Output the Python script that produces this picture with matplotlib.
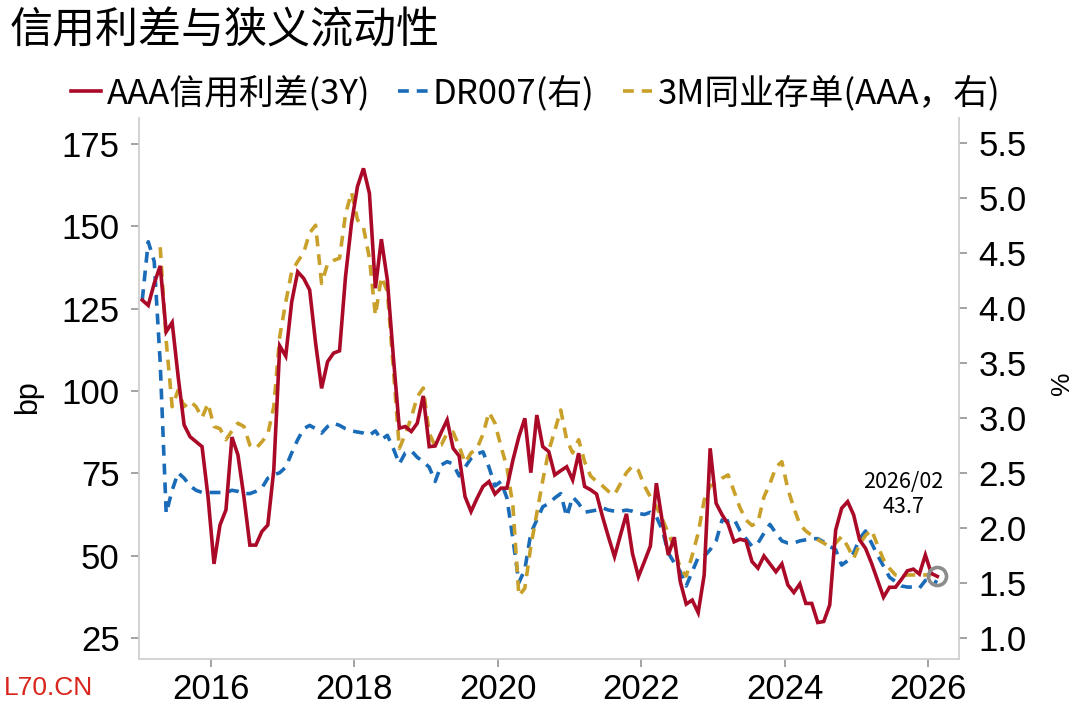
import numpy as np
import pandas as pd
import matplotlib
matplotlib.use("Agg")
import matplotlib.pyplot as plt

plt.rcParams['font.family'] = ['Liberation Sans', 'Noto Sans CJK SC', 'DejaVu Sans']
plt.rcParams['axes.unicode_minus'] = False

# monthly data, Jan 2015 - Feb 2026
months = pd.period_range('2015-01', '2026-02', freq='M')

# AAA credit spread 3Y (bp, left axis)
spread_aaa_3y = [
    127.6, 126.0, 132.7, 138.0, 118.0, 120.8, 104.4, 89.7, 86.1, 84.6, 83.1, 67.9,
    47.5, 59.3, 63.9, 86.0, 80.6, 67.9, 53.2, 53.2, 57.3, 59.3, 76.0, 113.7,
    110.6, 127.1, 136.2, 134.2, 130.7, 114.5, 100.8, 108.9, 111.5, 112.2, 134.7, 150.9,
    162.1, 167.6, 160.0, 131.2, 146.1, 133.7, 110.4, 88.7, 89.2, 87.7, 90.2, 98.5,
    83.1, 83.3, 87.4, 91.2, 82.6, 80.3, 67.9, 63.4, 67.4, 71.0, 72.5, 68.7,
    70.5, 70.5, 79.0, 86.1, 91.7, 75.2, 92.7, 83.1, 81.6, 74.5, 75.8, 77.0,
    73.0, 81.1, 71.0, 70.0, 68.7, 61.8, 55.6, 49.7, 56.3, 62.7, 50.7, 43.6,
    48.2, 52.9, 72.0, 60.3, 50.2, 55.6, 42.1, 35.3, 36.5, 32.7, 44.1, 82.6,
    65.9, 62.4, 59.6, 54.2, 55.0, 54.5, 48.2, 46.2, 49.9, 47.5, 45.1, 47.5,
    41.1, 38.8, 41.4, 35.5, 35.5, 29.7, 30.0, 35.0, 57.8, 64.4, 66.4, 62.4,
    54.8, 52.2, 47.7, 42.6, 37.4, 40.4, 40.4, 42.8, 45.4, 45.9, 44.4, 50.2,
    44.6, 43.7,
]

# DR007 (%, right axis)
dr007 = [
    4.07, 4.60, 4.42, 3.50, 2.13, 2.34, 2.50, 2.45, 2.38, 2.34, 2.32, 2.32,
    2.32, 2.32, 2.32, 2.34, 2.33, 2.31, 2.31, 2.33, 2.36, 2.45, 2.48, 2.50,
    2.55, 2.68, 2.80, 2.90, 2.93, 2.90, 2.86, 2.92, 2.95, 2.93, 2.90, 2.88,
    2.87, 2.86, 2.84, 2.88, 2.80, 2.84, 2.72, 2.58, 2.68, 2.70, 2.64, 2.60,
    2.55, 2.42, 2.57, 2.60, 2.58, 2.47, 2.55, 2.63, 2.67, 2.69, 2.55, 2.38,
    2.42, 2.27, 1.90, 1.50, 1.62, 1.95, 2.07, 2.19, 2.22, 2.27, 2.31, 2.10,
    2.28, 2.22, 2.14, 2.15, 2.16, 2.18, 2.16, 2.15, 2.15, 2.16, 2.15, 2.13,
    2.12, 2.14, 2.10, 1.98, 1.77, 1.68, 1.60, 1.47, 1.60, 1.73, 1.74, 1.80,
    1.88, 2.07, 2.06, 2.08, 1.97, 1.90, 1.83, 1.86, 1.95, 2.03, 1.95, 1.88,
    1.86, 1.86, 1.88, 1.89, 1.90, 1.90, 1.87, 1.83, 1.80, 1.66, 1.70, 1.77,
    1.90, 1.97, 1.86, 1.75, 1.65, 1.55, 1.51, 1.47, 1.46, 1.46, 1.45, 1.52,
    1.53, 1.50,
]

# 3M NCD AAA (%, right axis), series starts Apr 2015
ncd_3m_aaa = [
    np.nan, np.nan, np.nan, 4.55, 3.70, 3.10, 3.25, 3.10, 3.15, 3.10, 3.00, 3.13,
    2.92, 2.90, 2.80, 2.88, 2.95, 2.92, 2.75, 2.72, 2.78, 2.85, 3.10, 3.74,
    4.05, 4.33, 4.42, 4.50, 4.68, 4.75, 4.22, 4.40, 4.43, 4.45, 4.85, 5.05,
    4.80, 4.73, 4.45, 3.93, 4.28, 4.15, 3.45, 2.72, 2.85, 3.00, 3.19, 3.27,
    2.86, 2.74, 2.75, 2.86, 2.87, 2.74, 2.59, 2.68, 2.72, 2.85, 3.05, 2.95,
    2.74, 2.55, 2.20, 1.38, 1.45, 1.83, 2.13, 2.43, 2.70, 2.88, 3.07, 2.80,
    2.68, 2.80, 2.60, 2.47, 2.42, 2.38, 2.33, 2.30, 2.40, 2.50, 2.56, 2.52,
    2.38, 2.28, 2.19, 2.08, 1.95, 1.82, 1.63, 1.56, 1.75, 1.95, 2.25, 2.38,
    2.40, 2.45, 2.48, 2.33, 2.18, 2.07, 2.02, 2.05, 2.28, 2.40, 2.55, 2.60,
    2.35, 2.18, 2.03, 1.97, 1.93, 1.89, 1.86, 1.83, 1.86, 1.92, 1.83, 1.72,
    1.85, 1.93, 1.98, 1.84, 1.71, 1.63, 1.57, 1.56, 1.57, 1.57, 1.57, 1.57,
    1.57, np.nan,
]

year_ticks = [2016, 2018, 2020, 2022, 2024, 2026]
left_ticks = [25, 50, 75, 100, 125, 150, 175]
right_ticks = [1.0, 1.5, 2.0, 2.5, 3.0, 3.5, 4.0, 4.5, 5.0, 5.5]

# mid-month decimal year positions
x = np.array([p.year + (p.month - 0.5) / 12 for p in months])

red = '#AA0A28'
blue = '#1A6BB8'
gold = '#C9A12A'
spine_c = '#D0D0D0'
tick_c = '#8A8A8A'

fig = plt.figure(figsize=(10.8, 7.07), dpi=100)
ax = fig.add_axes([0.1287, 0.0679, 0.7593, 0.7652])
ax2 = ax.twinx()
ax.set_zorder(ax2.get_zorder() + 1)
ax.patch.set_visible(False)

lw = 2.6
l_dr, = ax2.plot(x, dr007, color=blue, lw=lw, dashes=(3, 2.2))
l_ncd, = ax2.plot(x, ncd_3m_aaa, color=gold, lw=lw, dashes=(3, 2.2))
l_sp, = ax.plot(x, spread_aaa_3y, color=red, lw=lw, solid_joinstyle='miter')

# latest point marker + label
ax.plot(x[-1], spread_aaa_3y[-1], 'o', ms=13, mfc='none', mec='#8C8C8C', mew=2.6, zorder=5)
ax.text(2025.65, 68.5, f"{months[-1].year}/{months[-1].month:02d}\n{spread_aaa_3y[-1]:.1f}",
        ha='center', va='center', fontsize=15.5, linespacing=1.2,
        family=['Noto Sans CJK SC', 'DejaVu Sans'])

ax.set_xlim(2014.996, 2026.428)
ax.set_ylim(18.62, 182.9)
ax2.set_ylim(0.806, 5.725)
ax.set_xticks(year_ticks)
ax.set_xticklabels([str(y) for y in year_ticks])
ax.set_yticks(left_ticks)
ax2.set_yticks(right_ticks)
ax2.set_yticklabels([f"{v:.1f}" for v in right_ticks])

for a in (ax, ax2):
    for s in a.spines.values():
        s.set_visible(False)
        s.set_color(spine_c)
        s.set_linewidth(1.3)
ax.spines['left'].set_visible(True)
ax.spines['bottom'].set_visible(True)
ax2.spines['right'].set_visible(True)

ax.tick_params(axis='y', direction='out', length=6, width=1.1, color=tick_c, labelsize=25, pad=8)
ax.tick_params(axis='x', direction='out', length=6, width=1.1, color=tick_c, labelsize=25, pad=4)
ax2.tick_params(axis='y', direction='out', length=6, width=1.1, color=tick_c, labelsize=25, pad=8)

fig.text(0.026, 0.438, 'bp', rotation=90, ha='center', va='center', fontsize=22)
fig.text(0.983, 0.458, '%', rotation=90, ha='center', va='center', fontsize=19)

fig.text(0.009, 0.955, '信用利差与狭义流动性', ha='left', va='center', fontsize=31,
         family=['Noto Sans CJK SC', 'DejaVu Sans'])

fig.legend([l_sp, l_dr, l_ncd], ['AAA信用利差(3Y)', 'DR007(右)', '3M同业存单(AAA，右)'],
           loc='center left', bbox_to_anchor=(0.05, 0.868), ncol=3, frameon=False,
           borderpad=0, handlelength=0.86, handletextpad=0.15, columnspacing=0.8,
           prop={'family': ['Liberation Sans Narrow', 'Noto Sans CJK SC', 'DejaVu Sans'], 'size': 25})

fig.text(0.004, 0.027, 'L70.CN', color='#D9261C', fontsize=19, ha='left', va='center')

fig.savefig('out.png', dpi=100)
